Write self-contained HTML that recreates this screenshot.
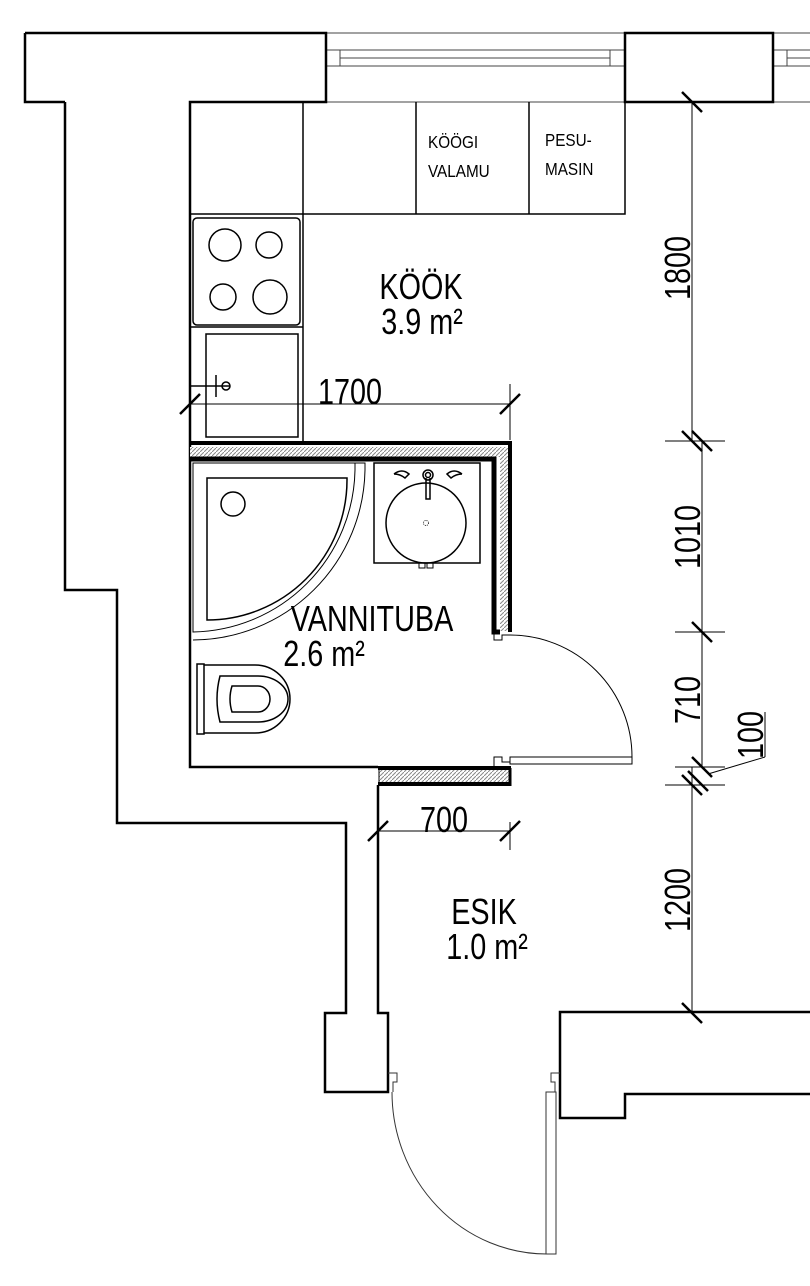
<!DOCTYPE html>
<html><head><meta charset="utf-8"><style>
html,body{margin:0;padding:0;background:#fff}
svg{display:block}
text{font-family:"Liberation Sans",sans-serif;fill:#000}
</style></head><body>
<svg width="810" height="1286" viewBox="0 0 810 1286" xmlns="http://www.w3.org/2000/svg">
<defs>
<pattern id="h" width="4" height="4" patternUnits="userSpaceOnUse">
<rect width="4" height="4" fill="#fff"/><path d="M0 4L4 0" stroke="#888" stroke-width="1"/>
</pattern>
</defs>
<g fill="none" stroke="#000">
<g stroke-width="1" stroke="#444">
<line x1="326" y1="33" x2="625" y2="33"/><line x1="326" y1="102" x2="625" y2="102"/>
<rect x="326" y="50" width="14" height="16"/><rect x="610" y="50" width="15" height="16"/>
<line x1="340" y1="50" x2="610" y2="50"/><line x1="340" y1="58" x2="610" y2="58"/><line x1="340" y1="66" x2="610" y2="66"/>
<line x1="773" y1="33" x2="810" y2="33"/><line x1="773" y1="102" x2="810" y2="102"/>
<rect x="773" y="50" width="14" height="16"/><line x1="787" y1="58" x2="810" y2="58"/><line x1="787" y1="50" x2="810" y2="50"/><line x1="787" y1="66" x2="810" y2="66"/>
</g>
<g stroke-width="2.5">
<path d="M65 102V590H117V823H346V1013H325V1092H388V1013H378V785"/>
<path d="M25 33H326V102H190V767H378"/>
<path d="M65 102H25V33"/>
<rect x="625" y="33" width="148" height="69"/>
<path d="M810 1012H560V1118H625V1094H810"/>
</g>
<g stroke-width="1.5">
<path d="M190 214H625V102"/>
<line x1="303" y1="102" x2="303" y2="441"/>
<line x1="416" y1="102" x2="416" y2="214"/><line x1="529" y1="102" x2="529" y2="214"/>
<line x1="190" y1="327" x2="303" y2="327"/>
<rect x="193" y="218" width="107" height="107" rx="4"/>
<circle cx="225" cy="245" r="16"/><circle cx="269" cy="245" r="13"/>
<circle cx="223" cy="297" r="13"/><circle cx="270" cy="297" r="17"/>
<rect x="206" y="334" width="92" height="103"/>
<line x1="190" y1="386" x2="230" y2="386"/><line x1="216" y1="375" x2="216" y2="397"/><circle cx="226" cy="386" r="4"/>
</g>
<rect x="190" y="447" width="310" height="10" fill="url(#h)" stroke="none"/>
<rect x="500" y="447" width="9" height="184" fill="url(#h)" stroke="none"/>
<path d="M190 443H510V632" stroke-width="4"/>
<path d="M190 459H494V632H500" stroke-width="5"/>
<rect x="379" y="769" width="130" height="15" fill="url(#h)" stroke="#000" stroke-width="1"/>
<line x1="378" y1="768" x2="511" y2="768" stroke-width="4"/><line x1="378" y1="784" x2="511" y2="784" stroke-width="4"/>
<line x1="510" y1="768" x2="510" y2="786" stroke-width="3"/>
<g stroke-width="1">
<path d="M494 632V640H502V635H510"/><path d="M494 767V757H502V762H510"/>
<rect x="510" y="757" width="122" height="7"/>
<path d="M632 757A122 122 0 0 0 510 635"/>
</g>
<g stroke-width="1.5">
<path d="M193 463H355V470A165 165 0 0 1 193 632Z" stroke-width="1"/>
<path d="M193 463H365V470A173 173 0 0 1 193 640" stroke-width="1"/>
<path d="M207 478H347V480A140 140 0 0 1 207 620Z"/>
<circle cx="233" cy="504" r="12"/>
</g>
<g stroke-width="1.5">
<rect x="374" y="463" width="106" height="100"/>
<circle cx="426" cy="523" r="40"/>
<circle cx="428" cy="475" r="5"/><circle cx="428" cy="475" r="2.5"/>
<path d="M426 478V499H430V478"/>
<path d="M394 474Q402 468 409 474L405 478Q400 474 394 474"/><path d="M462 474Q454 468 447 474L451 478Q456 474 462 474"/>
<circle cx="426" cy="523" r="2.5" stroke-width="0.8" stroke-dasharray="1 1"/>
<path d="M419 563V568H425V563M427 563V568H433V563" stroke-width="1"/>
</g>
<g stroke-width="1.5">
<rect x="197" y="664" width="7" height="70"/>
<path d="M204 665H255A35 34 0 0 1 255 733H204" transform="translate(0,0)"/>
<path d="M220 676H258A30 23 0 0 1 258 722H220Q214 699 220 676Z"/>
<path d="M232 686H258A12 13 0 0 1 258 712H232Q228 699 232 686Z"/>
</g>
<g stroke-width="1" stroke="#333">
<path d="M388 1073H397V1082H393V1092"/>
<path d="M560 1073H551V1082H555V1092"/>
<rect x="546" y="1092" width="10" height="162"/>
<path d="M392 1092A155 162 0 0 0 547 1254"/>
</g>
<g stroke-width="1">
<line x1="692" y1="102" x2="692" y2="441"/>
<line x1="702" y1="441" x2="702" y2="767"/>
<line x1="692" y1="767" x2="692" y2="1013"/>
<line x1="665" y1="441" x2="725" y2="441"/><line x1="675" y1="632" x2="725" y2="632"/>
<line x1="675" y1="767" x2="725" y2="767"/><line x1="665" y1="785" x2="725" y2="785"/>
<line x1="708" y1="774" x2="765" y2="757"/><line x1="765" y1="757" x2="765" y2="712"/>
<line x1="190" y1="404" x2="510" y2="404"/><line x1="510" y1="384" x2="510" y2="440"/>
<line x1="378" y1="831" x2="510" y2="831"/><line x1="510" y1="822" x2="510" y2="850"/>
</g>
<g stroke-width="2.5">
<line x1="682" y1="92" x2="702" y2="112"/>
<line x1="682" y1="431" x2="702" y2="451"/><line x1="692" y1="431" x2="712" y2="451"/>
<line x1="692" y1="622" x2="712" y2="642"/>
<line x1="692" y1="757" x2="712" y2="777"/>
<line x1="682" y1="775" x2="702" y2="795"/><line x1="688" y1="771" x2="708" y2="791"/>
<line x1="682" y1="1003" x2="702" y2="1023"/>
<line x1="180" y1="414" x2="200" y2="394"/><line x1="500" y1="414" x2="520" y2="394"/>
<line x1="368" y1="841" x2="388" y2="821"/><line x1="500" y1="841" x2="520" y2="821"/>
</g>
</g>
<g font-size="18">
<text transform="translate(428,148) scale(0.85,1)">KÖÖGI</text><text transform="translate(428,177) scale(0.85,1)">VALAMU</text>
<text transform="translate(545,146) scale(0.85,1)">PESU-</text><text transform="translate(545,175) scale(0.85,1)">MASIN</text>
</g>
<g font-size="36" text-anchor="middle">
<text transform="translate(421,299) scale(0.8,1)">KÖÖK</text>
<text transform="translate(422,334) scale(0.8,1)">3.9 m²</text>
<text transform="translate(372,631) scale(0.8,1)">VANNITUBA</text>
<text transform="translate(324,666) scale(0.8,1)">2.6 m²</text>
<text transform="translate(484,924) scale(0.8,1)">ESIK</text>
<text transform="translate(487,959) scale(0.8,1)">1.0 m²</text>
<text transform="translate(350,404) scale(0.8,1)">1700</text>
<text transform="translate(444,832) scale(0.8,1)">700</text>
<text transform="translate(690,268) rotate(-90) scale(0.8,1)">1800</text>
<text transform="translate(700,537) rotate(-90) scale(0.8,1)">1010</text>
<text transform="translate(700,700) rotate(-90) scale(0.8,1)">710</text>
<text transform="translate(763,735) rotate(-90) scale(0.8,1)">100</text>
<text transform="translate(690,900) rotate(-90) scale(0.8,1)">1200</text>
</g>
</svg>
</body></html>
